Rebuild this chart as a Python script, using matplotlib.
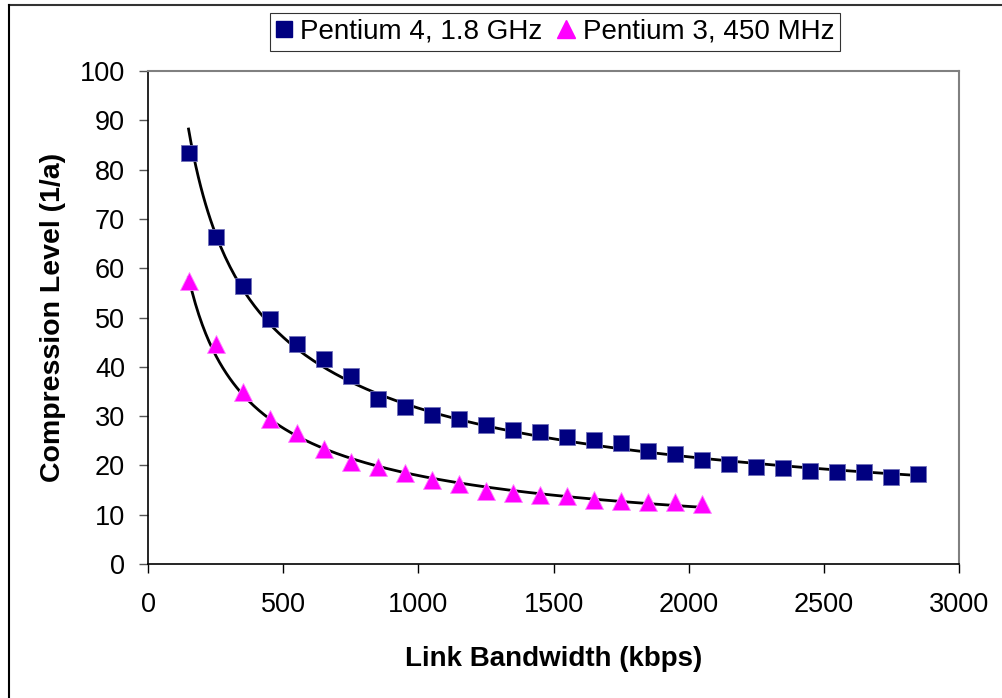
import numpy as np
import matplotlib
matplotlib.use("Agg")
import matplotlib.pyplot as plt
from matplotlib.lines import Line2D

plt.rcParams['font.family'] = ['Liberation Sans', 'DejaVu Sans']

# Data
p4_x = [150, 250, 350, 450, 550, 650, 750, 850, 950, 1050, 1150, 1250, 1350, 1450,
        1550, 1650, 1750, 1850, 1950, 2050, 2150, 2250, 2350, 2450, 2550, 2650, 2750, 2850]
p4_y = [83.3, 66.4, 56.3, 49.6, 44.6, 41.6, 38.1, 33.5, 31.8, 30.2, 29.5, 28.2, 27.2, 26.7,
        25.7, 25.2, 24.5, 23.0, 22.3, 21.1, 20.3, 19.7, 19.5, 18.8, 18.6, 18.6, 17.7, 18.2]
p3_x = [150, 250, 350, 450, 550, 650, 750, 850, 950, 1050, 1150, 1250, 1350, 1450,
        1550, 1650, 1750, 1850, 1950, 2050]
p3_y = [57.5, 44.6, 34.8, 29.5, 26.5, 23.3, 20.6, 19.6, 18.4, 17.0, 16.2, 14.9, 14.5, 13.9,
        13.7, 12.9, 12.8, 12.6, 12.5, 12.2]
p4_label = "Pentium 4, 1.8 GHz"
p3_label = "Pentium 3, 450 MHz"
x_ticks = [0, 500, 1000, 1500, 2000, 2500, 3000]
y_ticks = [0, 10, 20, 30, 40, 50, 60, 70, 80, 90, 100]


def power_fit(x, y):
    x = np.asarray(x, float)
    y = np.asarray(y, float)
    b, lna = np.polyfit(np.log(x), np.log(y), 1)
    xs = np.linspace(x.min(), x.max(), 300)
    return xs, np.exp(lna) * xs ** b


W, H = 1002, 698
fig = plt.figure(figsize=(W / 100, H / 100), dpi=100)
ax = fig.add_axes([148 / W, 1 - 564 / H, (959 - 148) / W, (564 - 71) / H])

navy = '#000080'
magenta = '#FF00FF'

xs, ys = power_fit(p4_x, p4_y)
ax.plot(xs, ys, color='black', lw=2.0, zorder=2)
xs, ys = power_fit(p3_x, p3_y)
ax.plot(xs, ys, color='black', lw=2.0, zorder=2)

ax.plot(p4_x, p4_y, ls='none', marker='s', ms=11.5, mfc=navy, mec='#7070b8', mew=0.6, zorder=3)
ax.plot(p3_x, p3_y, ls='none', marker='^', ms=13, mfc=magenta, mec='#ff80ff', mew=0.6, zorder=3)

ax.set_xlim(0, 3000)
ax.set_ylim(0, 100)
ax.set_xticks(x_ticks)
ax.set_yticks(y_ticks)
ax.tick_params(axis='both', direction='out', length=6.5, width=1, labelsize=19.5, colors='black')
ax.tick_params(axis='x', pad=14)
ax.tick_params(axis='y', pad=10, color='#555555')
for s in ['left', 'bottom']:
    ax.spines[s].set_color('black')
    ax.spines[s].set_linewidth(1.2)
for s in ['top', 'right']:
    ax.spines[s].set_color('#808080')
    ax.spines[s].set_linewidth(1.5)

ax.set_xlabel('Link Bandwidth (kbps)', fontsize=20, fontweight='bold', labelpad=20)
ax.set_ylabel('Compression Level (1/a)', fontsize=20.5, fontweight='bold', labelpad=10)

handles = [
    Line2D([], [], ls='none', marker='s', ms=11.5, mfc=navy, mec=navy),
    Line2D([], [], ls='none', marker='^', ms=13, mfc=magenta, mec=magenta),
]
leg = fig.legend(handles, [p4_label, p3_label], loc='center',
                 bbox_to_anchor=((264 + 846) / 2 / W, 1 - 32 / H),
                 ncol=2, fontsize=20, frameon=True, fancybox=False,
                 edgecolor='black', handlelength=0.6, handletextpad=0.3,
                 columnspacing=0.55, borderpad=0.2, borderaxespad=0)
leg.get_frame().set_linewidth(0.8)

# outer border (top and left)
fig.add_artist(Line2D([9 / W, 1], [1 - 5 / H, 1 - 5 / H], color='#333333', lw=1.5))
fig.add_artist(Line2D([9 / W, 9 / W], [0, 1 - 5 / H], color='black', lw=1.5))

fig.savefig('out.png', dpi=100)
